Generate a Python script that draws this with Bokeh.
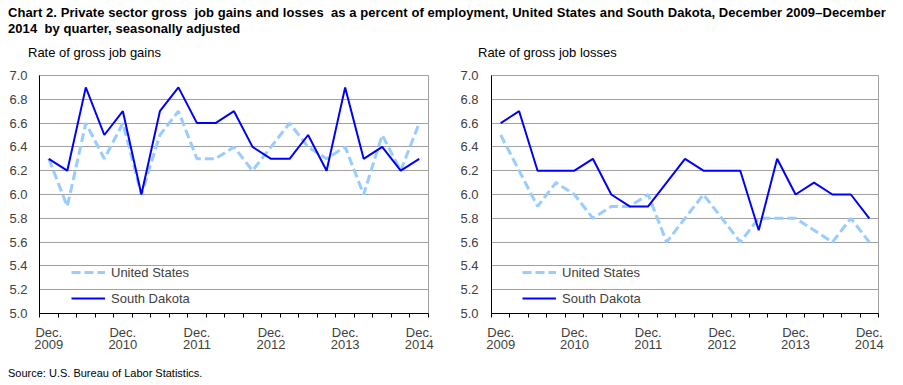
from bokeh.plotting import figure
from bokeh.models import (FixedTicker, Legend, Div, PrintfTickFormatter)
from bokeh.layouts import column, row
from bokeh.embed import file_html
from bokeh.resources import INLINE

# ---- data ----
quarters = ["Dec. 2009", "Mar. 2010", "Jun. 2010", "Sep. 2010", "Dec. 2010",
            "Mar. 2011", "Jun. 2011", "Sep. 2011", "Dec. 2011",
            "Mar. 2012", "Jun. 2012", "Sep. 2012", "Dec. 2012",
            "Mar. 2013", "Jun. 2013", "Sep. 2013", "Dec. 2013",
            "Mar. 2014", "Jun. 2014", "Sep. 2014", "Dec. 2014"]

gains_us = [6.3, 5.9, 6.6, 6.3, 6.6, 6.0, 6.5, 6.7, 6.3, 6.3, 6.4,
            6.2, 6.4, 6.6, 6.4, 6.3, 6.4, 6.0, 6.5, 6.2, 6.6]
gains_sd = [6.3, 6.2, 6.9, 6.5, 6.7, 6.0, 6.7, 6.9, 6.6, 6.6, 6.7,
            6.4, 6.3, 6.3, 6.5, 6.2, 6.9, 6.3, 6.4, 6.2, 6.3]
losses_us = [6.5, 6.2, 5.9, 6.1, 6.0, 5.8, 5.9, 5.9, 6.0, 5.6, 5.8,
             6.0, 5.8, 5.6, 5.8, 5.8, 5.8, 5.7, 5.6, 5.8, 5.6]
losses_sd = [6.6, 6.7, 6.2, 6.2, 6.2, 6.3, 6.0, 5.9, 5.9, 6.1, 6.3,
             6.2, 6.2, 6.2, 5.7, 6.3, 6.0, 6.1, 6.0, 6.0, 5.8]

y_ticks = [5.0, 5.2, 5.4, 5.6, 5.8, 6.0, 6.2, 6.4, 6.6, 6.8, 7.0]
x_label_positions = [0, 4, 8, 12, 16, 20]
x_tick_labels = ["Dec.\n2009", "Dec.\n2010", "Dec.\n2011",
                 "Dec.\n2012", "Dec.\n2013", "Dec.\n2014"]

title_text = ("Chart 2. Private sector gross&nbsp; job gains and losses&nbsp; as a percent of "
              "employment, United States and South Dakota, December 2009&ndash;December<br>"
              "2014&nbsp; by quarter, seasonally adjusted")
gains_title = "Rate of gross job gains"
losses_title = "Rate of gross job losses"
source_text = "Source: U.S. Bureau of Labor Statistics."

FONT = "Liberation Sans"
TXT = "#404040"
GRID = "#A0A0A0"
US_COLOR = "#99CCFF"
SD_COLOR = "#0000FF"


def make_panel(us, sd, width, bl, br, label_standoff, legend_x):
    x = list(range(len(quarters)))
    p = figure(width=width, height=302, output_backend="svg", toolbar_location=None,
               x_range=(-0.5, len(quarters) - 0.5), y_range=(5.0, 7.0),
               min_border_left=bl, min_border_right=br, min_border_top=15,
               min_border_bottom=49)

    p.outline_line_color = GRID
    p.background_fill_color = "white"
    p.border_fill_color = "white"

    p.xgrid.grid_line_color = None
    p.ygrid.ticker = FixedTicker(ticks=y_ticks)
    p.ygrid.grid_line_color = GRID

    ya = p.yaxis[0]
    ya.ticker = FixedTicker(ticks=y_ticks)
    ya.formatter = PrintfTickFormatter(format="%.1f")
    ya.major_tick_line_color = None
    ya.major_tick_out = 0
    ya.major_tick_in = 0
    ya.minor_tick_line_color = None
    ya.minor_tick_out = 0
    ya.axis_line_color = "black"
    ya.major_label_standoff = label_standoff
    ya.major_label_text_font = FONT
    ya.major_label_text_font_size = "13px"
    ya.major_label_text_color = TXT

    xa = p.xaxis[0]
    bounds = [i - 0.5 for i in range(len(quarters) + 1)]
    xa.ticker = FixedTicker(ticks=x_label_positions, minor_ticks=bounds)
    xa.major_label_overrides = {pos: lab for pos, lab in zip(x_label_positions, x_tick_labels)}
    xa.major_tick_line_color = None
    xa.major_tick_out = 0
    xa.major_tick_in = 0
    xa.minor_tick_line_color = "black"
    xa.minor_tick_in = 0
    xa.minor_tick_out = 4
    xa.axis_line_color = "black"
    xa.major_label_standoff = 7
    xa.major_label_text_font = FONT
    xa.major_label_text_font_size = "13px"
    xa.major_label_text_line_height = 0.85
    xa.major_label_text_color = TXT

    r_us = p.line(x, us, line_color=US_COLOR, line_width=3, line_dash="9 4")
    r_sd = p.line(x, sd, line_color=SD_COLOR, line_width=2)

    legend = Legend(items=[("United States", [r_us]), ("South Dakota", [r_sd])],
                    location=(legend_x, 5), padding=0, margin=0, spacing=6,
                    glyph_width=34, glyph_height=20, label_height=20,
                    label_standoff=6, background_fill_alpha=0,
                    border_line_color=None, label_text_font=FONT,
                    label_text_font_size="13px", label_text_color=TXT)
    p.add_layout(legend)
    return p


def panel_title(text, left):
    return Div(text=text, width=450 - left, height=14, margin=(2, 0, 0, left),
               styles={"font-family": FONT, "font-size": "13px", "line-height": "14px",
                       "white-space": "nowrap", "color": "#000000"})


p1 = make_panel(gains_us, gains_sd, 450, 39, 22, 12, 32)
p2 = make_panel(losses_us, losses_sd, 450, 41, 22, 13, 31)

title_div = Div(text=title_text, width=895, height=39, margin=(5, 0, 0, 8),
                styles={"font-family": FONT, "font-size": "13px", "font-weight": "bold",
                        "line-height": "16px", "white-space": "nowrap", "color": "#000000",
                        "letter-spacing": "0.07px"})
source_div = Div(text=source_text, width=880, height=12, margin=(5, 0, 0, 8),
                 styles={"font-family": FONT, "font-size": "11px",
                         "line-height": "12px", "white-space": "nowrap", "color": "#000000"})

layout = column(title_div,
                row(column(panel_title(gains_title, 28), p1),
                    column(panel_title(losses_title, 28), p2)),
                source_div)

open("out.html", "w").write(file_html(layout, INLINE))
